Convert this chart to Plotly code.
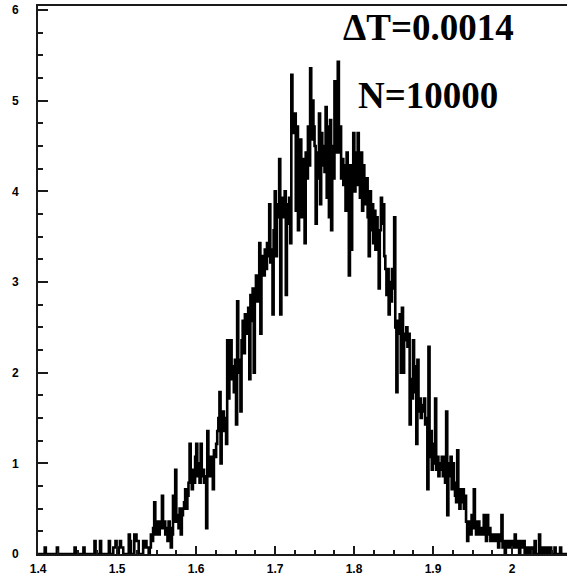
import plotly.graph_objects as go

# Histogram settings
N_EVENTS = 10000
BIN_WIDTH = 0.0014
X_START = 1.4

# Entries per bin (bin i starts at X_START + i * BIN_WIDTH)
counts = [
    0, 0, 0, 0, 0, 0, 1, 0, 0, 0,
    0, 0, 0, 0, 0, 0, 0, 1, 0, 0,
    0, 0, 0, 0, 0, 0, 0, 0, 0, 0,
    0, 0, 0, 1, 0, 0, 0, 0, 0, 0,
    0, 1, 0, 0, 0, 0, 0, 0, 0, 0,
    0, 2, 0, 0, 0, 0, 2, 0, 0, 0,
    0, 0, 0, 0, 2, 0, 0, 0, 1, 1,
    2, 1, 0, 1, 2, 1, 1, 0, 0, 0,
    0, 0, 3, 2, 0, 0, 0, 3, 3, 2,
    2, 0, 0, 0, 0, 2, 1, 2, 1, 1,
    0, 1, 3, 2, 4, 8, 3, 4, 5, 3,
    4, 5, 9, 4, 5, 3, 4, 2, 5, 4,
    1, 3, 9, 5, 13, 6, 5, 4, 7, 3,
    6, 7, 8, 10, 7, 9, 11, 17, 12, 10,
    13, 11, 15, 17, 12, 14, 11, 17, 12, 13,
    11, 12, 4, 19, 13, 12, 15, 14, 10, 16,
    15, 17, 19, 21, 25, 14, 20, 22, 19, 21,
    17, 33, 24, 28, 33, 27, 29, 25, 30, 20,
    39, 30, 28, 22, 33, 36, 31, 37, 34, 35,
    38, 27, 40, 36, 41, 28, 40, 43, 39, 42,
    48, 34, 44, 46, 43, 47, 44, 48, 46, 54,
    45, 47, 37, 50, 56, 46, 54, 52, 61, 37,
    53, 55, 52, 56, 40, 54, 51, 55, 48, 74,
    67, 65, 68, 53, 66, 50, 62, 64, 52, 61,
    56, 48, 62, 58, 66, 60, 75, 64, 70, 66,
    63, 51, 62, 58, 68, 54, 65, 60, 63, 59,
    69, 55, 66, 52, 67, 50, 63, 58, 73, 62,
    70, 76, 62, 66, 58, 61, 57, 60, 53, 62,
    55, 43, 60, 47, 58, 65, 56, 62, 57, 65,
    58, 55, 62, 53, 60, 57, 54, 58, 52, 46,
    56, 50, 54, 48, 53, 47, 52, 49, 41, 50,
    55, 51, 54, 46, 44, 40, 44, 37, 42, 39,
    44, 41, 52, 35, 25, 36, 34, 37, 28, 38,
    28, 34, 33, 35, 32, 34, 20, 27, 24, 33,
    29, 25, 17, 30, 22, 24, 21, 23, 22, 24,
    20, 21, 10, 32, 15, 19, 13, 17, 14, 24,
    13, 15, 12, 14, 13, 15, 12, 15, 11, 22,
    6, 14, 12, 15, 10, 14, 11, 9, 8, 16,
    9, 7, 10, 8, 10, 7, 9, 5, 2, 4,
    5, 3, 6, 4, 10, 5, 3, 4, 5, 3,
    4, 3, 4, 6, 3, 2, 6, 3, 4, 2,
    3, 2, 3, 2, 3, 2, 1, 3, 2, 6,
    1, 2, 0, 1, 2, 1, 2, 1, 1, 2,
    1, 3, 1, 2, 1, 0, 2, 1, 1, 2,
    0, 1, 0, 0, 1, 0, 0, 1, 0, 2,
    0, 0, 0, 3, 1, 0, 1, 0, 1, 1,
    0, 1, 0, 1, 0, 0, 0, 1, 0, 0,
    0, 0, 1, 0, 0, 0, 0, 0, 0,
]

x_tick_vals = [1.4, 1.5, 1.6, 1.7, 1.8, 1.9, 2.0]
x_tick_text = ["1.4", "1.5", "1.6", "1.7", "1.8", "1.9", "2"]
y_tick_vals = [0, 1, 2, 3, 4, 5, 6]
y_tick_text = ["0", "1", "2", "3", "4", "5", "6"]

label_bin = "\u0394T=0.0014"
label_n = "N=10000"

# Normalised density: entries / (N * bin width)
density = [c / (N_EVENTS * BIN_WIDTH) for c in counts]
edges = [X_START + BIN_WIDTH * i for i in range(len(counts) + 1)]

AXIS_COLOR = "#1a1a1a"
tick_font = dict(family="Liberation Sans, Arial, sans-serif", size=12,
                 color="black", weight="bold")
text_font = dict(family="Liberation Serif, Times New Roman, serif", size=37,
                 color="black")

fig = go.Figure()
fig.add_trace(go.Scatter(
    x=edges,
    y=density + [density[-1]],
    mode="lines",
    line=dict(color="black", width=2.6, shape="hv"),
    hoverinfo="skip",
    showlegend=False,
))

fig.update_layout(
    width=567,
    height=577,
    margin=dict(l=38, r=0, t=6, b=23),
    paper_bgcolor="white",
    plot_bgcolor="white",
    xaxis=dict(
        range=[1.3999, 2.0696],
        tickmode="array",
        tickvals=x_tick_vals,
        ticktext=x_tick_text,
        ticks="inside",
        ticklen=8,
        tickwidth=2,
        tickcolor=AXIS_COLOR,
        minor=dict(tickmode="linear", tick0=1.4, dtick=0.025, ticks="inside",
                   ticklen=4, tickwidth=1.5, tickcolor=AXIS_COLOR),
        showline=True,
        linecolor=AXIS_COLOR,
        linewidth=2,
        mirror=True,
        showgrid=False,
        zeroline=False,
        tickfont=tick_font,
        ticklabelstandoff=3,
    ),
    yaxis=dict(
        range=[0, 6.044],
        tickmode="array",
        tickvals=y_tick_vals,
        ticktext=y_tick_text,
        ticks="inside",
        ticklen=10,
        tickwidth=2,
        tickcolor=AXIS_COLOR,
        minor=dict(tickmode="linear", tick0=0, dtick=0.25, ticks="inside",
                   ticklen=5, tickwidth=1.5, tickcolor=AXIS_COLOR),
        showline=True,
        linecolor=AXIS_COLOR,
        linewidth=2,
        showgrid=False,
        zeroline=False,
        tickfont=tick_font,
        ticklabelstandoff=15,
    ),
    annotations=[
        dict(text="<b>" + label_bin + "</b>", xref="paper", yref="paper",
             x=0.572, y=0.96, xanchor="left", yanchor="middle", showarrow=False,
             font=text_font),
        dict(text="<b>" + label_n + "</b>", xref="paper", yref="paper",
             x=0.601, y=0.837, xanchor="left", yanchor="middle", showarrow=False,
             font=text_font),
    ],
)

fig.write_html("out.html")
